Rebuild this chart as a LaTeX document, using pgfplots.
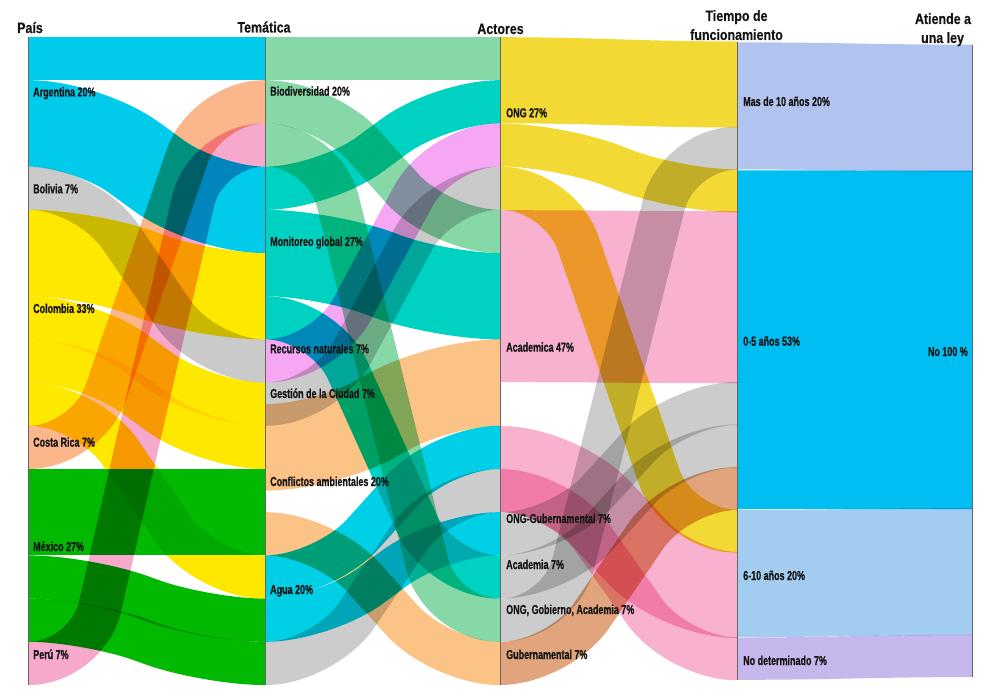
\documentclass[border=0pt]{standalone}
\usepackage{pgfplots}
\pgfplotsset{compat=1.18}
\usepackage{fontspec}
\setmainfont{Liberation Sans}
\newfontfamily\labfont{Liberation Sans}[FakeStretch=0.69, BoldFeatures={FakeBold=0.6}]
\newfontfamily\headfont{Liberation Sans}[FakeStretch=0.83, BoldFeatures={FakeBold=0.4}]

% node colours
\definecolor{cArg}{HTML}{00CBEA}
\definecolor{cBol}{HTML}{CACACA}
\definecolor{cCol}{HTML}{FFE800}
\definecolor{cCR}{HTML}{FBB68C}
\definecolor{cMex}{HTML}{00B900}
\definecolor{cPer}{HTML}{F6A8CD}
\definecolor{cBio}{HTML}{86D9A6}
\definecolor{cMon}{HTML}{00D2C2}
\definecolor{cRec}{HTML}{F5A7F3}
\definecolor{cGes}{HTML}{CACACA}
\definecolor{cCon}{HTML}{FBC386}
\definecolor{cAgu}{HTML}{00CFE6}
\definecolor{cONG}{HTML}{F2D933}
\definecolor{cAca}{HTML}{F8B2CF}
\definecolor{cGra}{HTML}{CCCCCC}
\definecolor{cGub}{HTML}{E1A47D}
\definecolor{cMas}{HTML}{B1C3EF}
\definecolor{cCero}{HTML}{00BEF2}
\definecolor{cSeis}{HTML}{A3CDF0}
\definecolor{cNo}{HTML}{C6B8EC}
\definecolor{txt}{HTML}{141414}

\begin{document}
\begin{tikzpicture}[
    flow/.style={overlay, line cap=butt, blend mode=multiply, rounded corners=58pt},
    colline/.style={draw=black!60, line width=1pt},
    lab/.style={anchor=base west, inner sep=0pt, text=txt,
        font=\labfont\bfseries\fontsize{13pt}{15pt}\selectfont},
    head/.style={anchor=base, inner sep=0pt, text=txt,
        font=\headfont\bfseries\fontsize{15pt}{17pt}\selectfont},
]
\begin{axis}[
    width=1000pt, height=700pt, scale only axis,
    xmin=0, xmax=1000, ymin=0, ymax=700, y dir=reverse,
    hide axis, clip=false,
    every axis plot/.append style={no markers},
]
\addplot[draw=none, forget plot] coordinates {(0,0) (1000,700)};

% País -> Temática
\addplot[flow, draw=cArg, line width=43.2pt] coordinates {(28,58.6)(87,58.6)(206,58.6)(265,58.6)};
\addplot[flow, draw=cArg, line width=86.4pt] coordinates {(28,123.4)(87,123.4)(206,209.8)(265,209.8)};
\addplot[flow, draw=cBol, line width=43.2pt] coordinates {(28,188.2)(87,188.2)(206,361)(265,361)};
\addplot[flow, draw=cCol, line width=86.4pt] coordinates {(28,253)(87,253)(206,296.2)(265,296.2)};
\addplot[flow, draw=cCol, line width=43.2pt] coordinates {(28,317.8)(87,317.8)(206,404.2)(265,404.2)};
\addplot[flow, draw=cCol, line width=43.2pt] coordinates {(28,361)(87,361)(206,447.4)(265,447.4)};
\addplot[flow, draw=cCol, line width=43.2pt] coordinates {(28,404.2)(87,404.2)(206,577)(265,577)};
\addplot[flow, draw=cCR, line width=43.2pt] coordinates {(28,447.4)(87,447.4)(206,101.8)(265,101.8)};
\addplot[flow, draw=cMex, line width=86.4pt] coordinates {(28,512.2)(87,512.2)(206,512.2)(265,512.2)};
\addplot[flow, draw=cMex, line width=43.2pt] coordinates {(28,577)(87,577)(206,620.2)(265,620.2)};
\addplot[flow, draw=cMex, line width=43.2pt] coordinates {(28,620.2)(87,620.2)(206,663.4)(265,663.4)};
\addplot[flow, draw=cPer, line width=43.2pt] coordinates {(28,663.4)(87,663.4)(206,145)(265,145)};

% Temática -> Actores
\addplot[flow, draw=cBio, line width=43.2pt] coordinates {(265,58.6)(324,58.6)(441,58.6)(500,58.6)};
\addplot[flow, draw=cBio, line width=43.2pt] coordinates {(265,101.8)(324,101.8)(441,231.4)(500,231.4)};
\addplot[flow, draw=cBio, line width=43.2pt] coordinates {(265,145)(324,145)(441,620.2)(500,620.2)};
\addplot[flow, draw=cMon, line width=43.2pt] coordinates {(265,188.2)(324,188.2)(441,101.8)(500,101.8)};
\addplot[flow, draw=cMon, line width=86.4pt] coordinates {(265,253)(324,253)(441,296.2)(500,296.2)};
\addplot[flow, draw=cMon, line width=43.2pt] coordinates {(265,317.8)(324,317.8)(441,577)(500,577)};
\addplot[flow, draw=cRec, line width=43.2pt] coordinates {(265,361)(324,361)(441,145)(500,145)};
\addplot[flow, draw=cGes, line width=43.2pt] coordinates {(265,404.2)(324,404.2)(441,188.2)(500,188.2)};
\addplot[flow, draw=cCon, line width=86.4pt] coordinates {(265,447.4)(324,447.4)(441,382.6)(500,382.6)};
\addplot[flow, draw=cCon, line width=43.2pt] coordinates {(265,533.8)(324,533.8)(441,663.4)(500,663.4)};
\addplot[flow, draw=cAgu, line width=43.2pt] coordinates {(265,577)(324,577)(441,447.4)(500,447.4)};
\addplot[flow, draw=cAgu, line width=43.2pt] coordinates {(265,620.2)(324,620.2)(441,533.8)(500,533.8)};
\addplot[flow, draw=cGra, line width=43.2pt] coordinates {(265,663.4)(324,663.4)(441,490.6)(500,490.6)};

% Actores -> Tiempo de funcionamiento
\addplot[flow, draw=cONG, line width=86pt] coordinates {(500,80.2)(559,80.2)(678,84.5)(737,84.5)};
\addplot[flow, draw=cONG, line width=43pt] coordinates {(500,145)(559,145)(678,190.9)(737,190.9)};
\addplot[flow, draw=cONG, line width=43pt] coordinates {(500,188.2)(559,188.2)(678,531.1)(737,531.1)};
\addplot[flow, draw=cAca, line width=172pt] coordinates {(500,296.2)(559,296.2)(678,297.2)(737,297.2)};
\addplot[flow, draw=cAca, line width=86pt] coordinates {(500,469)(559,469)(678,594.9)(737,594.9)};
\addplot[flow, draw=cAca, line width=43pt] coordinates {(500,490.6)(559,490.6)(678,658.7)(737,658.7)};
\addplot[flow, draw=cGra, line width=43pt] coordinates {(500,533.8)(559,533.8)(678,403.5)(737,403.5)};
\addplot[flow, draw=cGra, line width=43pt] coordinates {(500,577)(559,577)(678,446)(737,446)};
\addplot[flow, draw=cGra, line width=43pt] coordinates {(500,620.2)(559,620.2)(678,148.3)(737,148.3)};
\addplot[flow, draw=cGub, line width=43pt] coordinates {(500,663.4)(559,663.4)(678,488.6)(737,488.6)};

% Tiempo -> Atiende a una ley
\addplot[flow, draw=cMas, line width=127pt] coordinates {(737,105.8)(796,105.8)(913,108.2)(972,108.2)};
\addplot[flow, draw=cCero, line width=338.6pt] coordinates {(737,339.7)(796,339.7)(913,339.9)(972,339.9)};
\addplot[flow, draw=cSeis, line width=127pt] coordinates {(737,573.6)(796,573.6)(913,571.6)(972,571.6)};
\addplot[flow, draw=cNo, line width=42.3pt] coordinates {(737,658.7)(796,658.7)(913,655.9)(972,655.9)};

% columnas
\addplot[colline] coordinates {(28,37)(28,685)};
\addplot[colline] coordinates {(265,37)(265,685)};
\addplot[colline] coordinates {(500,37)(500,685)};
\addplot[colline] coordinates {(737,42)(737,680)};
\addplot[colline] coordinates {(972,45)(972,677)};

% encabezados
\node[head] at (axis cs:30,33) {País};
\node[head] at (axis cs:264,32.5) {Temática};
\node[head] at (axis cs:500.5,34) {Actores};
\node[head] at (axis cs:736.5,21) {Tiempo de};
\node[head] at (axis cs:736.5,40) {funcionamiento};
\node[head] at (axis cs:943,24) {Atiende a};
\node[head] at (axis cs:942.5,43) {una ley};

% etiquetas
\node[lab] at (axis cs:33,96.5) {Argentina 20\%};
\node[lab] at (axis cs:33,193.3) {Bolivia 7\%};
\node[lab] at (axis cs:33,313) {Colombia 33\%};
\node[lab] at (axis cs:33,446.7) {Costa Rica 7\%};
\node[lab] at (axis cs:33,551) {México 27\%};
\node[lab] at (axis cs:33,659) {Perú 7\%};

\node[lab] at (axis cs:270,95.7) {Biodiversidad 20\%};
\node[lab] at (axis cs:270,246) {Monitoreo global 27\%};
\node[lab] at (axis cs:270,353.3) {Recursos naturales 7\%};
\node[lab] at (axis cs:270,398) {Gestión de la Ciudad 7\%};
\node[lab] at (axis cs:270,486) {Conflictos ambientales 20\%};
\node[lab] at (axis cs:270,594) {Agua 20\%};

\node[lab] at (axis cs:506,117.3) {ONG 27\%};
\node[lab] at (axis cs:506,351.7) {Academica 47\%};
\node[lab] at (axis cs:506,523) {ONG-Gubernamental 7\%};
\node[lab] at (axis cs:506,569) {Academia 7\%};
\node[lab] at (axis cs:506,614) {ONG, Gobierno, Academia 7\%};
\node[lab] at (axis cs:506,659) {Gubernamental 7\%};

\node[lab] at (axis cs:743,106) {Mas de 10 años 20\%};
\node[lab] at (axis cs:743,345.7) {0-5 años 53\%};
\node[lab] at (axis cs:743,580) {6-10 años 20\%};
\node[lab] at (axis cs:743,665) {No determinado 7\%};

\node[lab, anchor=base east] at (axis cs:968,356) {No 100 \%};
\end{axis}
\end{tikzpicture}
\end{document}
